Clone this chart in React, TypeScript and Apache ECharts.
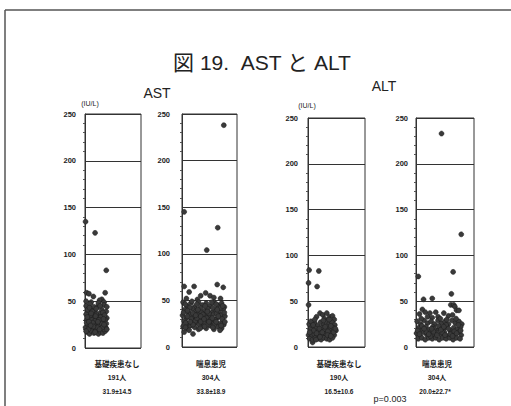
import React, { useEffect, useRef } from "react";
import * as echarts from "echarts";

const yTicks = [0, 50, 100, 150, 200, 250];
const groupLabels = ["基礎疾患なし", "喘息患児", "基礎疾患なし", "喘息患児"];
const countLabels = ["191人", "304人", "190人", "304人"];
const statLabels = ["31.9±14.5", "33.8±18.9", "16.5±10.6", "20.0±22.7*"];
const pValue = "p=0.003";

// [jitter position 0..10, value IU/L]
const astNone = [
  [0.1,135],[1.8,123],[3.8,83],[3.6,59],[0.3,59],[0.7,58],[1.5,55],[3.0,52],[2.6,51],[0.2,50],[3.4,49],[1.1,49],
  [0.2,45],[0.6,38],[1.0,42],[1.4,35],[1.8,40],[2.2,44],[2.6,37],[3.0,41],[3.4,46],[3.8,39],
  [0.3,30],[0.7,33],[1.1,28],[1.5,31],[1.9,26],[2.3,33],[2.7,29],[3.1,34],[3.5,27],[3.9,32],
  [0.1,22],[0.5,25],[0.9,20],[1.3,24],[1.7,21],[2.1,27],[2.5,23],[2.9,19],[3.3,24],[3.7,22],
  [0.4,17],[0.8,15],[1.2,18],[1.6,16],[2.0,19],[2.4,15],[2.8,17],[3.2,16],[3.6,18],
  [0.2,36],[0.9,47],[1.6,44],[2.4,48],[3.2,38],[3.9,44],[0.5,41],[1.2,30],[2.0,36],[2.8,33],[3.6,30],
  [0.3,27],[1.0,35],[1.8,29],[2.6,25],[3.4,20],[0.6,20],[1.4,27],[2.2,22],[3.0,26],[3.8,26],
  [0.8,43],[1.3,39],[2.0,42],[2.7,45],[3.5,35],[0.4,33],[1.1,37],[1.9,34],[2.5,30],[3.3,31],
  [0.7,28],[1.5,23],[2.3,28],[3.1,22],[3.9,20],[0.2,18],[1.0,24],[1.8,17],[2.6,20],[3.4,25],
];

const astAsthma = [
  [7.6,238],[0.4,145],[6.5,128],[4.5,104],
  [0.4,65],[2.2,65],[6.4,67],[7.5,64],[1.3,59],[3.4,55],[4.3,58],[5.1,55],[0.8,52],[2.8,51],[5.8,53],[7.0,52],
  [0.2,48],[0.9,44],[1.6,47],[2.3,43],[3.0,48],[3.7,45],[4.4,47],[5.1,44],[5.8,48],[6.5,45],[7.2,47],[7.7,43],
  [0.5,40],[1.2,37],[1.9,41],[2.6,38],[3.3,42],[4.0,39],[4.7,41],[5.4,37],[6.1,40],[6.8,38],[7.5,41],
  [0.1,34],[0.8,31],[1.5,35],[2.2,32],[2.9,35],[3.6,31],[4.3,34],[5.0,32],[5.7,35],[6.4,31],[7.1,34],[7.8,33],
  [0.4,28],[1.1,25],[1.8,29],[2.5,26],[3.2,29],[3.9,25],[4.6,28],[5.3,26],[6.0,29],[6.7,25],[7.4,28],
  [0.2,22],[0.9,20],[1.6,23],[2.3,21],[3.0,19],[3.7,22],[4.4,20],[5.1,23],[5.8,19],[6.5,22],[7.2,20],
  [0.6,46],[1.4,42],[2.0,36],[2.7,46],[3.5,37],[4.2,44],[4.9,36],[5.6,42],[6.3,36],[7.0,42],[7.7,37],
  [0.3,37],[1.0,33],[1.7,30],[2.4,28],[3.1,24],[3.8,35],[4.5,31],[5.2,29],[5.9,24],[6.6,33],[7.3,30],
  [0.7,26],[1.3,18],[2.0,24],[2.7,31],[3.4,27],[4.1,22],[4.8,25],[5.5,31],[6.2,27],[6.9,18],[7.6,24],
  [0.4,16],[2.0,14],[1.0,39],[2.9,40],[4.6,38],[6.2,46],[7.4,44],[3.4,33],[5.4,48],[1.8,49],
  [0.6,21],[1.5,27],[2.5,34],[3.3,20],[4.0,30],[4.9,27],[5.6,21],[6.4,40],[7.1,23],[7.8,27],
];

const altNone = [
  [0.2,84],[1.9,83],[0.1,70],[1.6,66],[0.1,46],[0.8,5],
  [2.1,37],[2.6,35],[3.3,37],[3.8,33],[4.3,34],[1.5,33],[2.9,31],[4.6,30],
  [0.2,25],[0.7,22],[1.2,26],[1.7,23],[2.2,27],[2.7,24],[3.2,28],[3.7,25],[4.2,27],[4.7,24],
  [0.4,19],[0.9,16],[1.4,20],[1.9,17],[2.4,21],[2.9,18],[3.4,22],[3.9,19],[4.4,21],[4.9,18],
  [0.1,13],[0.6,11],[1.1,14],[1.6,12],[2.1,15],[2.6,12],[3.1,14],[3.6,11],[4.1,15],[4.6,13],
  [0.3,9],[0.8,8],[1.3,10],[1.8,9],[2.3,8],[2.8,10],[3.3,9],[3.8,8],[4.3,10],
  [0.5,28],[1.0,18],[1.5,15],[2.0,20],[2.5,16],[3.0,22],[3.5,17],[4.0,23],[4.5,16],
  [0.3,16],[0.9,24],[1.4,8],[2.1,11],[2.7,29],[3.4,13],[4.0,12],[4.8,20],[1.2,30],[3.7,30],
];

const altAsthma = [
  [4.4,233],[7.8,123],[6.4,82],[0.4,77],[6.1,58],[2.8,53],[1.3,52],[6.0,46],[6.5,46],[6.7,44],[7.0,40],[7.4,40],
  [1.1,41],[1.6,38],[2.4,37],[3.4,38],[4.8,37],[0.6,36],[2.0,33],[2.8,32],[3.8,33],[5.6,34],[6.3,35],
  [0.2,28],[0.8,25],[1.4,29],[2.0,26],[2.6,28],[3.2,25],[3.8,29],[4.4,26],[5.0,28],[5.6,25],[6.2,29],[6.8,26],[7.4,28],[7.9,25],
  [0.5,21],[1.1,18],[1.7,22],[2.3,19],[2.9,22],[3.5,18],[4.1,21],[4.7,19],[5.3,22],[5.9,18],[6.5,21],[7.1,19],[7.7,22],
  [0.1,15],[0.7,12],[1.3,16],[1.9,13],[2.5,16],[3.1,12],[3.7,15],[4.3,13],[4.9,16],[5.5,12],[6.1,15],[6.7,13],[7.3,16],[7.8,13],
  [0.4,9],[1.0,10],[1.6,8],[2.2,10],[2.8,9],[3.4,10],[4.0,8],[4.6,10],[5.2,9],[5.8,10],[6.4,8],[7.0,10],[7.6,9],
  [0.3,18],[1.0,23],[1.8,16],[2.5,12],[3.1,20],[3.9,23],[4.5,16],[5.2,24],[5.9,14],[6.6,17],[7.3,24],[0.9,31],[4.2,31],[5.3,30],[6.9,31],
  [0.6,14],[1.4,20],[2.2,14],[3.0,17],[3.6,13],[4.3,19],[5.0,13],[5.6,20],[6.3,12],[7.0,15],[7.7,18],[2.7,20],[4.8,22],
];

const panelData = [astNone, astAsthma, altNone, altAsthma];

export default function App() {
  const ref = useRef<HTMLDivElement>(null);
  useEffect(() => {
    if (!ref.current) return;
    const chart = echarts.init(ref.current, null, { renderer: "svg" });
    const grids = [
      { left: 85, top: 114, width: 56, height: 234, labelMargin: 9, cx: 117 },
      { left: 182, top: 114, width: 55, height: 233, labelMargin: 12, cx: 211 },
      { left: 308, top: 118, width: 57, height: 229, labelMargin: 10, cx: 339 },
      { left: 416, top: 118, width: 58, height: 229, labelMargin: 8, cx: 437 },
    ];
    const latin = "Liberation Sans";
    const cjk = "Liberation Sans, Noto Sans CJK JP";
    const texts: any[] = [];
    grids.forEach((g, i) => {
      texts.push(
        { type: "text", x: g.cx, y: 363, style: { text: groupLabels[i], fontFamily: "Noto Sans CJK JP", fontWeight: "bold", fontSize: 7.5, fill: "#222", textAlign: "center", textVerticalAlign: "middle" } },
        { type: "text", x: g.cx, y: 377, style: { text: countLabels[i], fontFamily: cjk, fontWeight: "bold", fontSize: 7, fill: "#222", textAlign: "center", textVerticalAlign: "middle" } },
        { type: "text", x: g.cx - (i === 3 ? 2 : 0), y: 391.5, style: { text: statLabels[i], fontFamily: latin, fontWeight: "bold", fontSize: 6.5, fill: "#222", textAlign: "center", textVerticalAlign: "middle" } }
      );
    });
    chart.setOption({
      animation: false,
      backgroundColor: "#fff",
      grid: grids.map((g) => ({ left: g.left, top: g.top, width: g.width, height: g.height, show: true, borderColor: "#333", borderWidth: 1, backgroundColor: "transparent" })),
      xAxis: grids.map((_, i) => ({ type: "value", gridIndex: i, min: 0, max: 10, show: false })),
      yAxis: grids.map((g, i) => ({
        type: "value",
        gridIndex: i,
        min: yTicks[0],
        max: yTicks[yTicks.length - 1],
        interval: 50,
        axisLine: { show: true, lineStyle: { color: "#333", width: 1 } },
        axisTick: { show: false },
        minorTick: { show: true, splitNumber: 5, length: 2, lineStyle: { color: "#555" } },
        axisLabel: { margin: g.labelMargin, fontFamily: latin, fontWeight: "bold", fontSize: 7.5, color: "#222" },
        splitLine: { show: true, lineStyle: { color: "#333", width: 1, type: "solid" } },
      })),
      series: panelData.map((d, i) => ({
        type: "scatter",
        xAxisIndex: i,
        yAxisIndex: i,
        data: d,
        symbolSize: 5,
        itemStyle: { color: "#3a3a3a", borderColor: "#1a1a1a", borderWidth: 0.5, opacity: 1 },
      })),
      graphic: [
        { type: "line", shape: { x1: 5, y1: 10, x2: 511, y2: 10 }, style: { stroke: "#555", lineWidth: 1.5 } },
        { type: "line", shape: { x1: 5, y1: 10, x2: 5, y2: 406 }, style: { stroke: "#555", lineWidth: 1.5 } },
        { type: "text", x: 262, y: 62, style: { text: "図 19.  AST と ALT", fontFamily: cjk, fontSize: 21, fill: "#222", textAlign: "center", textVerticalAlign: "middle" } },
        { type: "text", x: 157, y: 93, style: { text: "AST", fontFamily: latin, fontSize: 14, fill: "#222", textAlign: "center", textVerticalAlign: "middle" } },
        { type: "text", x: 384, y: 86, style: { text: "ALT", fontFamily: latin, fontSize: 14, fill: "#222", textAlign: "center", textVerticalAlign: "middle" } },
        { type: "text", x: 90, y: 103, style: { text: "(IU/L)", fontFamily: latin, fontSize: 7, fill: "#222", textAlign: "center", textVerticalAlign: "middle" } },
        { type: "text", x: 307, y: 105, style: { text: "(IU/L)", fontFamily: latin, fontSize: 7, fill: "#222", textAlign: "center", textVerticalAlign: "middle" } },
        { type: "text", x: 390, y: 399, style: { text: pValue, fontFamily: latin, fontSize: 9, fill: "#222", textAlign: "center", textVerticalAlign: "middle" } },
        ...texts,
      ],
    });
    return () => chart.dispose();
  }, []);
  return <div ref={ref} style={{ position: "fixed", left: 0, top: 0, width: 511, height: 406, background: "#fff" }} />;
}
